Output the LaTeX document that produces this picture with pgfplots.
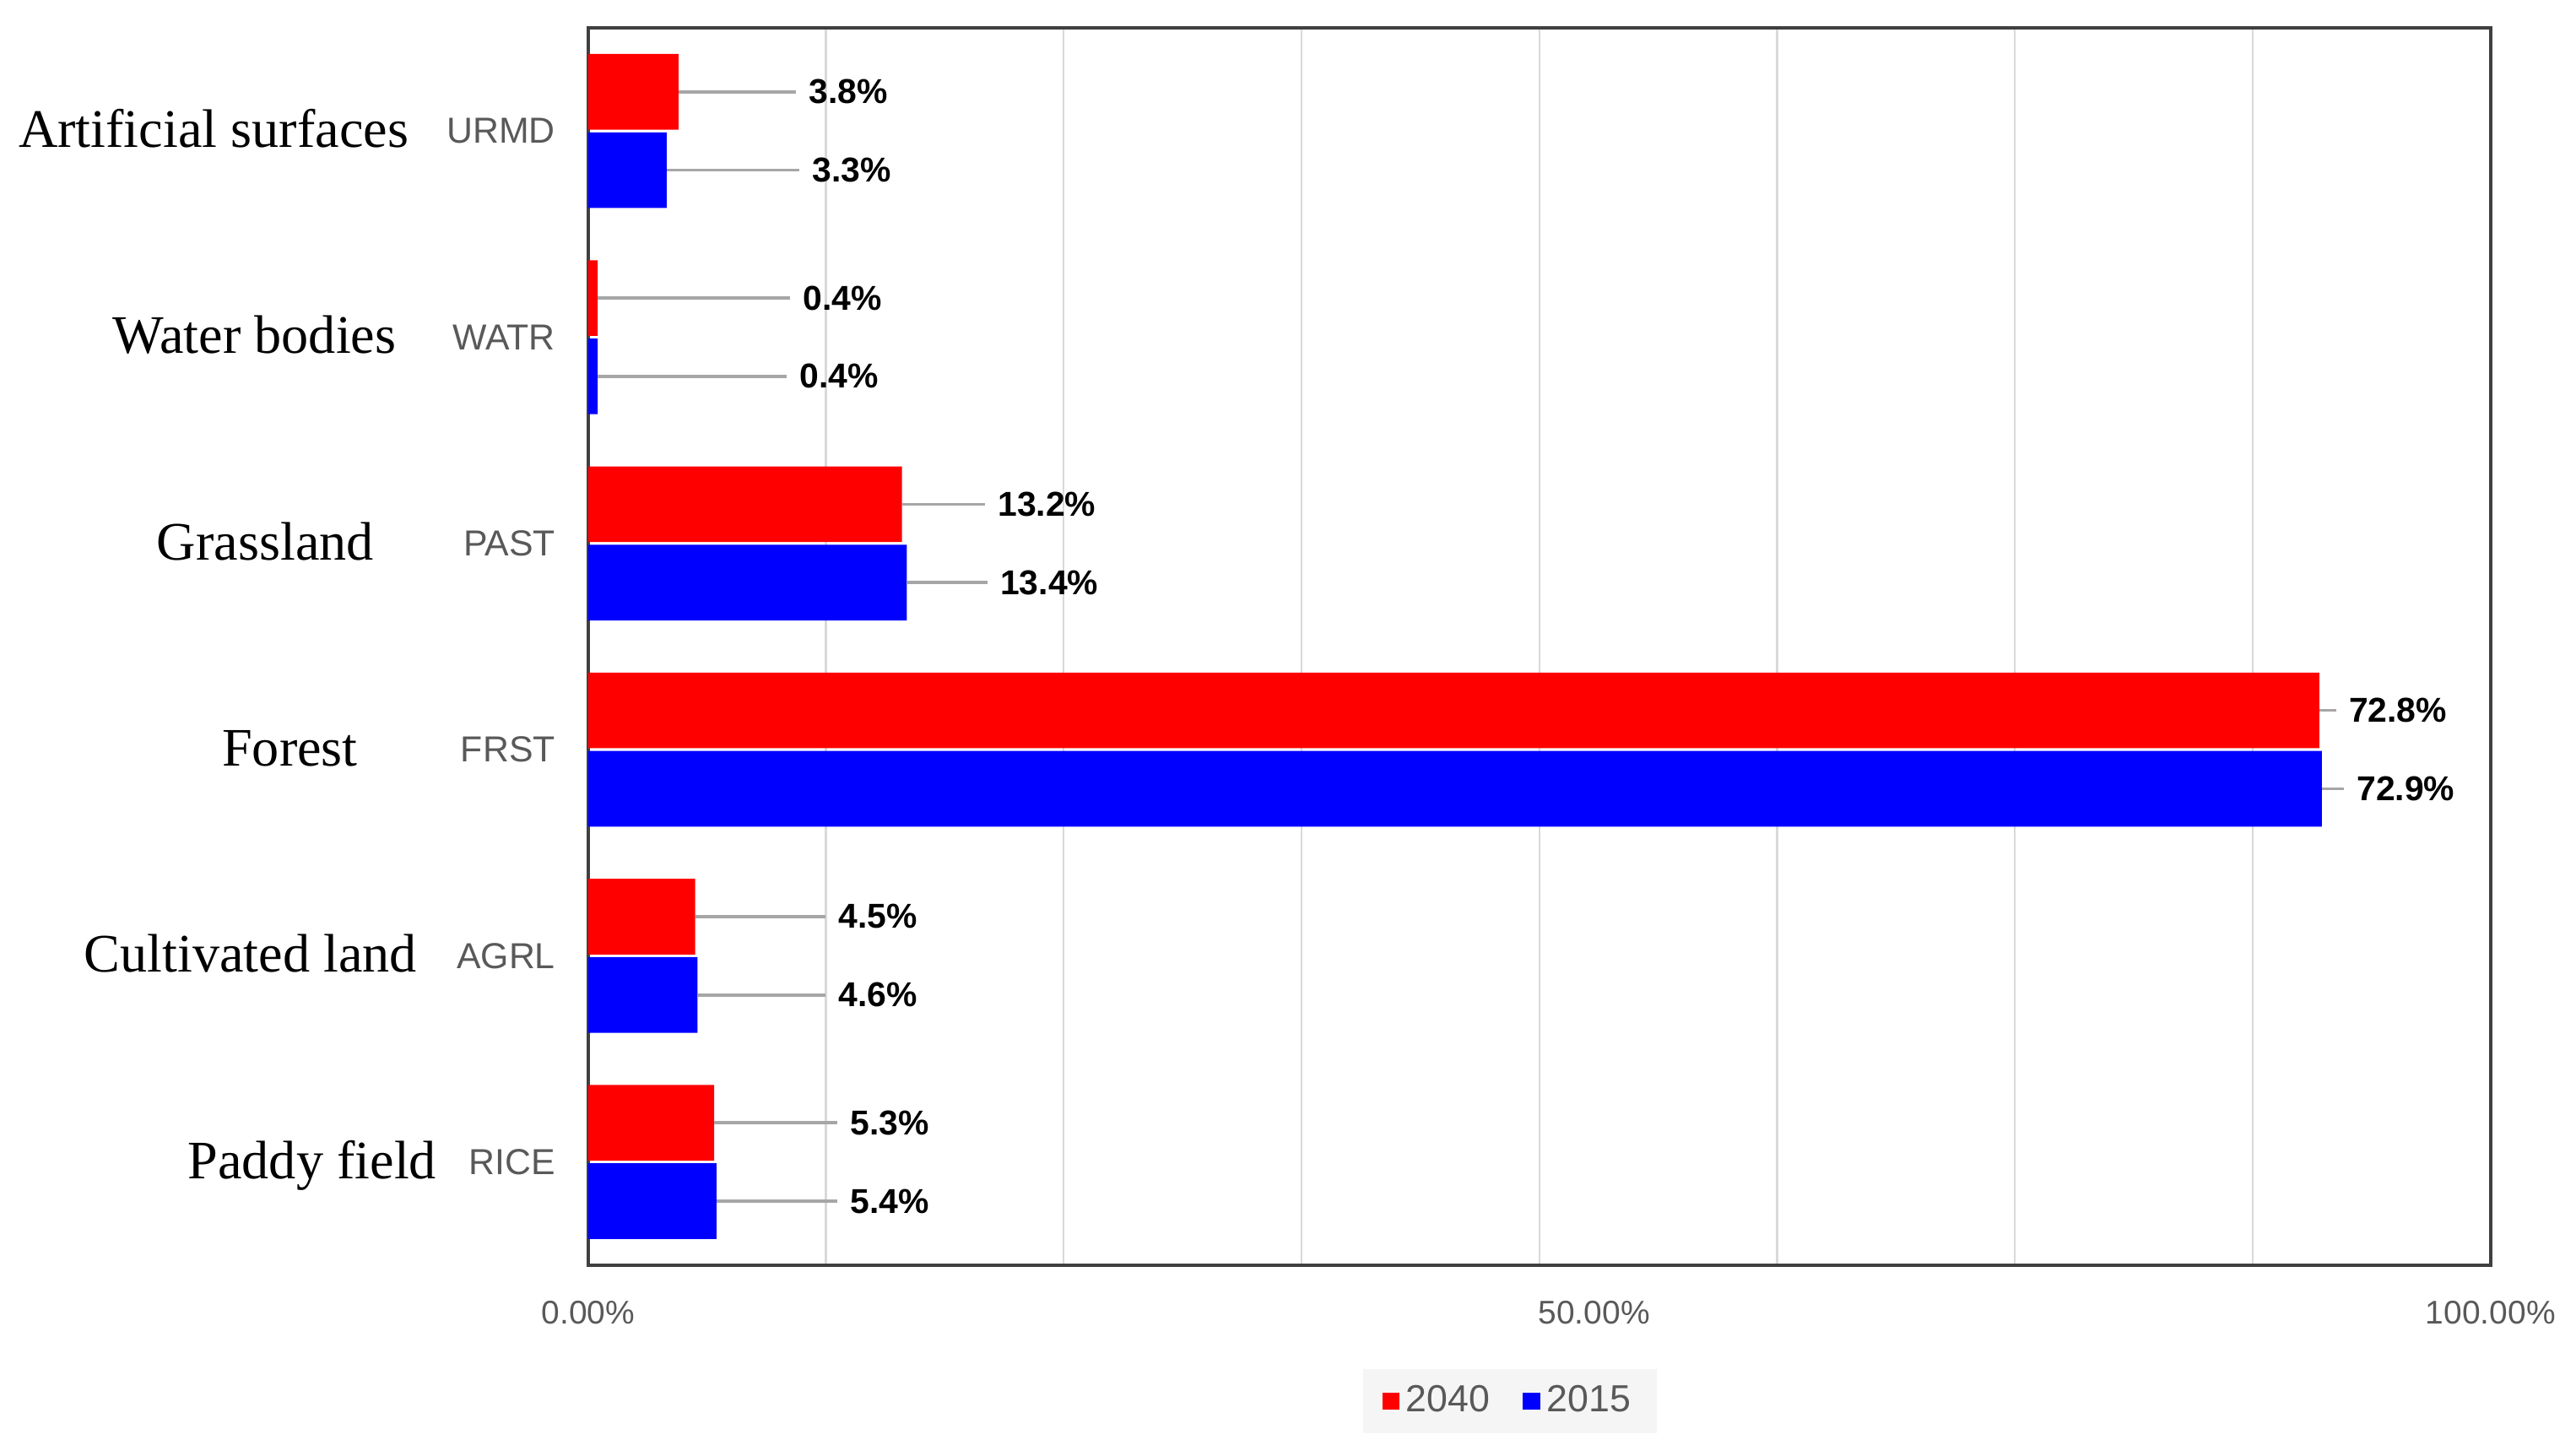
\documentclass[border=0pt]{standalone}
\usepackage{fontspec}
\setmainfont{Liberation Sans}
\newfontfamily\serifcat{Liberation Serif}
\usepackage{pgfplots}
\pgfplotsset{compat=1.18}
\definecolor{txtgray}{HTML}{595959}
\definecolor{gridgray}{HTML}{D9D9D9}
\definecolor{leadgray}{HTML}{A6A6A6}
\definecolor{framegray}{HTML}{404040}
\definecolor{legbg}{HTML}{F5F5F5}
\definecolor{cred}{HTML}{FF0000}
\definecolor{cblue}{HTML}{0000FF}

% value, y, end of leader line, label
\newcommand{\leader}[4]{%
  \addplot[leadgray, line width=0.9pt, forget plot] coordinates {(#1,#2) (#3,#2)}
    node[pos=1, anchor=west, inner sep=0pt, xshift=3.5pt, text=black,
         font=\fontsize{10.5}{12}\selectfont\bfseries] {#4\%};%
}
\newcommand{\catname}[3]{%
  \node[font=\serifcat\fontsize{16.5}{18}\selectfont, anchor=base, xshift=#2, yshift=-5pt]
    at (axis cs:0,#1) {#3};%
}

\begin{document}
\begin{tikzpicture}
\begin{axis}[
  scale only axis, width=579pt, height=376.5pt,
  xmin=0, xmax=80, ymin=-0.5, ymax=5.5,
  xtick={0,10,...,80}, xticklabel=\empty,
  extra x ticks={0,42.3,80},
  extra x tick labels={0.00\%,\raisebox{-2.5pt}{50.00\%},100.00\%},
  extra x tick style={grid=none, xticklabel style={yshift=-7.5pt, text=txtgray, font=\fontsize{10}{12}\selectfont}},
  xmajorgrids, grid style={gridgray, line width=0.6pt},
  ytick={0,...,5}, yticklabels={RICE,AGRL,FRST,PAST,WATR,URMD},
  yticklabel style={text=txtgray, font=\fontsize{11}{13}\selectfont, xshift=-6.5pt},
  major tick length=0, minor tick length=0,
  axis line style={framegray, line width=1pt},
  clip=false,
  legend style={at={(0.4845,0)}, anchor=north, yshift=-31.5pt, fill=legbg, draw=none,
    font=\fontsize{11.5}{13}\selectfont, text=txtgray, legend columns=-1,
    /tikz/every even column/.append style={column sep=8pt},
    inner xsep=6pt, inner ysep=3pt},
  legend cell align=left,
]
\addplot[xbar, bar width=0.367, bar shift=0.19, fill=cred, draw=none,
  legend image code/.code={\fill[cred] (0pt,-2.6pt) rectangle (5.2pt,2.6pt);}]
  coordinates {(5.3,0) (4.5,1) (72.8,2) (13.2,3) (0.4,4) (3.8,5)};
\addlegendentry{2040}
\addplot[xbar, bar width=0.367, bar shift=-0.19, fill=cblue, draw=none,
  legend image code/.code={\fill[cblue] (0pt,-2.6pt) rectangle (5.2pt,2.6pt);}]
  coordinates {(5.4,0) (4.6,1) (72.9,2) (13.4,3) (0.4,4) (3.3,5)};
\addlegendentry{2015}

\leader{3.8}{5.19}{8.75}{3.8}
\leader{3.3}{4.81}{8.88}{3.3}
\leader{0.4}{4.19}{8.50}{0.4}
\leader{0.4}{3.81}{8.36}{0.4}
\leader{13.2}{3.19}{16.69}{13.2}
\leader{13.4}{2.81}{16.79}{13.4}
\leader{72.8}{2.19}{73.5}{72.8}
\leader{72.9}{1.81}{73.83}{72.9}
\leader{4.5}{1.19}{9.98}{4.5}
\leader{4.6}{0.81}{9.98}{4.6}
\leader{5.3}{0.19}{10.48}{5.3}
\leader{5.4}{-0.19}{10.48}{5.4}

\catname{5}{-114pt}{Artificial surfaces}
\catname{4}{-101.5pt}{Water bodies}
\catname{3}{-98.25pt}{Grassland}
\catname{2}{-90.75pt}{Forest}
\catname{1}{-102.75pt}{Cultivated land}
\catname{0}{-84pt}{Paddy field}
\end{axis}
\path (current axis.south west) ++(-179pt,-53pt) coordinate (bl);
\path (current axis.north east) ++(26pt,8.5pt) coordinate (tr);
\path (bl) rectangle (tr);
\end{tikzpicture}
\end{document}
